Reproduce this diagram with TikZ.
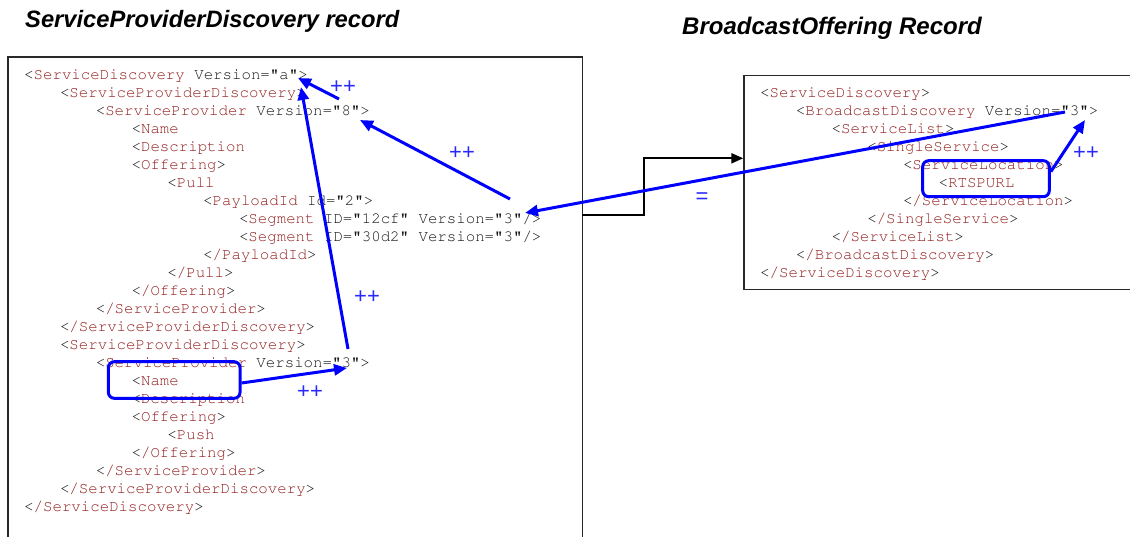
\documentclass[tikz,border=0pt]{standalone}
\usepackage[T1,TU]{fontenc}
\usepackage{fontspec}
\setmainfont{Liberation Sans}
\usetikzlibrary{arrows.meta}

\definecolor{tagred}{RGB}{145,28,28}
\definecolor{attrgray}{RGB}{20,20,20}
\definecolor{hiblue}{RGB}{0,0,255}
\definecolor{lblblue}{RGB}{40,40,255}
\definecolor{boxgray}{RGB}{40,40,40}

% Courier for the XML listings
\newcommand\xmlfont{\fontencoding{T1}\fontfamily{pcr}\fontseries{m}\fontshape{n}\fontsize{15.75}{18}\selectfont}
\newcommand\tg[1]{\textcolor{tagred}{#1}}
% one listing line: name, indent level, row, text
\newcommand\xl[4]{\node[codeline] (#1) at ({24+35.8*#2},{79.5+18*#3}) {#4};}
\newcommand\xr[4]{\node[codeline] (#1) at ({760+35.7*#2},{97.5+18*#3}) {#4};}

\begin{document}
\begin{tikzpicture}[x=1pt,y=-1pt,
  codeline/.style={anchor=base west, inner sep=0pt, font=\xmlfont, text=attrgray},
  heading/.style={anchor=base west, inner sep=0pt, font=\fontsize{23.7}{26}\selectfont\bfseries\itshape},
  recbox/.style={draw=boxgray, line width=1.5pt, anchor=north west, inner sep=0pt},
  hilite/.style={draw=hiblue, line width=3pt, rounded corners=6pt, inner sep=0pt},
  bluearrow/.style={draw=hiblue, line width=3pt, -{Triangle[length=13pt,width=11pt]}},
  conn/.style={draw=black, line width=2pt, -{Triangle[length=12pt,width=10pt]}},
  lbl/.style={inner sep=0pt, text=lblblue, font=\fontsize{22}{22}\selectfont}]

\fill[white] (0,0) rectangle (1130,536);
\useasboundingbox (0,0) rectangle (1130,536);
\clip (0,0) rectangle (1130,536);

% headings
\node[heading] (t1) at (25,27) {ServiceProviderDiscovery record};
\node[heading, font=\fontsize{24}{26}\selectfont\bfseries\itshape] (t2) at (682,34) {BroadcastOffering Record};

% record frames
\node[recbox, minimum width=574.5pt, minimum height=520pt] (spdBox) at (7,56) {};
\node[recbox, minimum width=420pt, minimum height=214pt] (boBox) at (743.3,74.7) {};

% ServiceProviderDiscovery listing
\xl{a0}{0}{0}{<\tg{ServiceDiscovery} Version="a">}
\xl{a1}{1}{1}{<\tg{ServiceProviderDiscovery}>}
\xl{a2}{2}{2}{<\tg{ServiceProvider} Version="8">}
\xl{a3}{3}{3}{<\tg{Name}}
\xl{a4}{3}{4}{<\tg{Description}}
\xl{a5}{3}{5}{<\tg{Offering}>}
\xl{a6}{4}{6}{<\tg{Pull}}
\xl{a7}{5}{7}{<\tg{PayloadId} Id="2">}
\xl{a8}{6}{8}{<\tg{Segment} ID="12cf" Version="3"/>}
\xl{a9}{6}{9}{<\tg{Segment} ID="30d2" Version="3"/>}
\xl{a10}{5}{10}{<\tg{/PayloadId}>}
\xl{a11}{4}{11}{<\tg{/Pull}>}
\xl{a12}{3}{12}{<\tg{/Offering}>}
\xl{a13}{2}{13}{<\tg{/ServiceProvider}>}
\xl{a14}{1}{14}{<\tg{/ServiceProviderDiscovery}>}
\xl{a15}{1}{15}{<\tg{ServiceProviderDiscovery}>}
\xl{a16}{2}{16}{<\tg{ServiceProvider} Version="3">}
\xl{a17}{3}{17}{<\tg{Name}}
\xl{a18}{3}{18}{<\tg{Description}}
\xl{a19}{3}{19}{<\tg{Offering}>}
\xl{a20}{4}{20}{<\tg{Push}}
\xl{a21}{3}{21}{<\tg{/Offering}>}
\xl{a22}{2}{22}{<\tg{/ServiceProvider}>}
\xl{a23}{1}{23}{<\tg{/ServiceProviderDiscovery}>}
\xl{a24}{0}{24}{<\tg{/ServiceDiscovery}>}

% BroadcastOffering listing
\xr{b0}{0}{0}{<\tg{ServiceDiscovery}>}
\xr{b1}{1}{1}{<\tg{BroadcastDiscovery} Version="3">}
\xr{b2}{2}{2}{<\tg{ServiceList}>}
\xr{b3}{3}{3}{<\tg{SingleService}>}
\xr{b4}{4}{4}{<\tg{ServiceLocation}>}
\xr{b5}{5}{5}{<\tg{RTSPURL}}
\xr{b6}{4}{6}{<\tg{/ServiceLocation}>}
\xr{b7}{3}{7}{<\tg{/SingleService}>}
\xr{b8}{2}{8}{<\tg{/ServiceList}>}
\xr{b9}{1}{9}{<\tg{/BroadcastDiscovery}>}
\xr{b10}{0}{10}{<\tg{/ServiceDiscovery}>}

% link between the two records
\coordinate (outP) at (581.5,215);
\coordinate (inP) at (743.3,158.3);
\draw[conn] (outP) -- ++(62.8,0) |- (inP);

% version references
\coordinate (verA) at (298,78);
\coordinate (verSPD) at (301,87);
\coordinate (ver8) at (360,120);
\coordinate (seg3) at (525,213);
\coordinate (ver3) at (347,368);
\coordinate (bver3) at (1085,120);
\coordinate (fromA) at (339,99);
\coordinate (fromSeg) at (510,199);
\coordinate (fromSP3) at (348,349);
\coordinate (fromB) at (1065,112);

\node[hilite, minimum width=131.7pt, minimum height=36.6pt] (nameBox) at (174.2,380) {};
\node[hilite, minimum width=126.6pt, minimum height=36pt] (rtspBox) at (986,178.7) {};

\draw[bluearrow] (fromA) -- (verA);
\draw[bluearrow] (fromSeg) -- (ver8);
\draw[bluearrow] (fromSP3) -- (verSPD);
\draw[bluearrow] ([yshift=-3pt]nameBox.east) -- (ver3);
\draw[bluearrow] (fromB) -- (seg3);
\draw[bluearrow] ([yshift=7pt]rtspBox.east) -- (bver3);

\node[lbl] (pA) at (343,87) {++};
\node[lbl] (pB) at (462,153) {++};
\node[lbl] (pC) at (367,297) {++};
\node[lbl] (pD) at (310,392) {++};
\node[lbl] (pF) at (1086,153) {++};
\node[lbl] (eq) at (702,198) {=};
\end{tikzpicture}
\end{document}
